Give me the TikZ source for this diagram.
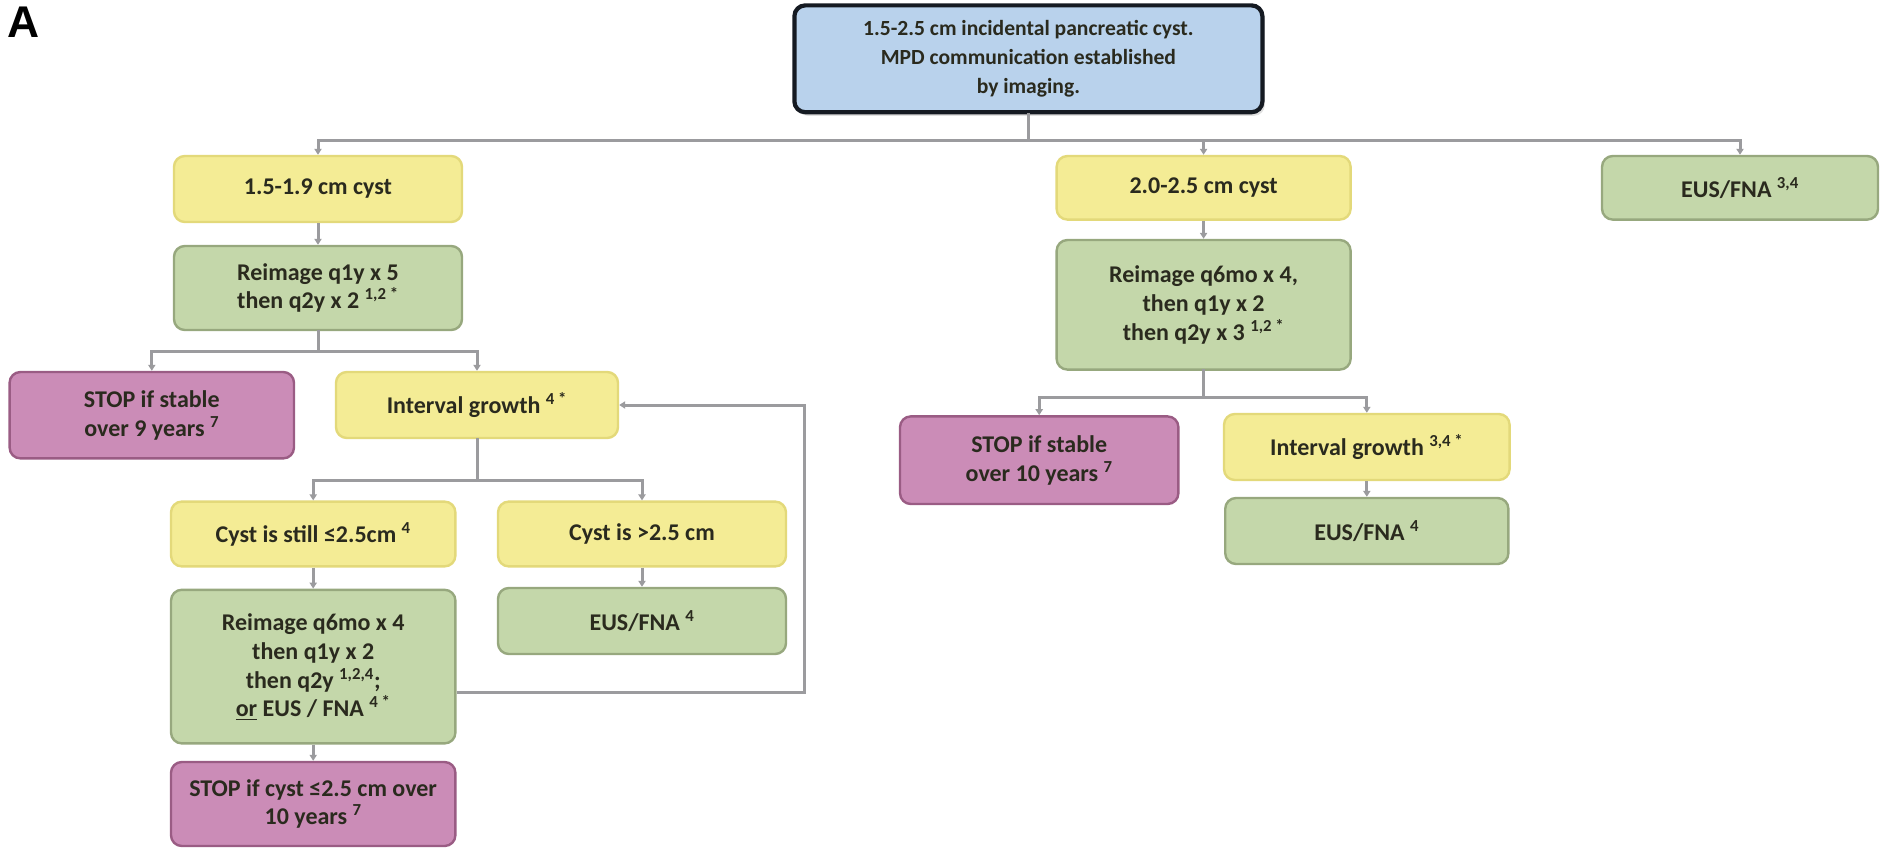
\documentclass[tikz,border=0pt]{standalone}
\usepackage{fontspec}
\setmainfont{Carlito}
\newfontfamily\labfont{Liberation Sans}
\usetikzlibrary{arrows.meta,shadows}
\definecolor{yelF}{HTML}{F4EC95}
\definecolor{yelD}{HTML}{E3D97A}
\definecolor{grnF}{HTML}{C4D7AA}
\definecolor{grnD}{HTML}{97A87E}
\definecolor{pnkF}{HTML}{CB8CB7}
\definecolor{pnkD}{HTML}{9A5C84}
\definecolor{bluF}{HTML}{B9D2EC}
\definecolor{bluD}{HTML}{151A22}
\definecolor{lineC}{HTML}{9B9B9E}
\definecolor{txt}{HTML}{2A2A1E}
\newcommand\supx[1]{\textsuperscript{#1}}
\begin{document}
\begin{tikzpicture}[x=1pt,y=-1pt,
 box/.style={rounded corners=9pt, line width=2pt, align=center, inner sep=0pt,
   font=\bfseries\fontsize{20}{24}\selectfont, text=txt},
 ybox/.style={box, fill=yelF, draw=yelD},
 gbox/.style={box, fill=grnF, draw=grnD},
 pbox/.style={box, fill=pnkF, draw=pnkD},
 bbox/.style={box, fill=bluF, draw=bluD, line width=3.5pt,
   font=\bfseries\fontsize{18}{24}\selectfont,
   drop shadow={opacity=0.25, shadow xshift=2pt, shadow yshift=-3pt}},
 wire/.style={draw=lineC, line width=2.5pt, line cap=rect},
 arr/.style={draw=lineC, line width=2.5pt, -{Triangle[length=5pt,width=6pt]}},
]
\useasboundingbox (0,0) rectangle (1570,708.3);

\node[font=\labfont\bfseries\fontsize{37}{37}\selectfont, anchor=base west, inner sep=0pt, text=black] (lab) at (6,31) {A};

% nodes
\node[bbox, minimum width=390pt, minimum height=89pt] (top) at (857,49)
  {1.5-2.5 cm incidental pancreatic cyst.\\ MPD communication established\\ by imaging.};

\node[ybox, minimum width=240pt, minimum height=55pt] (c1519) at (265,157.5) {1.5-1.9 cm cyst};
\node[gbox, minimum width=240pt, minimum height=70pt] (r1) at (265,240)
  {Reimage q1y x 5\\ then q2y x 2 \supx{1,2 *}};
\node[pbox, minimum width=237pt, minimum height=72pt] (stop9) at (126.5,346)
  {STOP if stable\\ over 9 years \supx{7}};
\node[ybox, minimum width=235pt, minimum height=55pt] (ig1) at (397.5,337.5)
  {Interval growth \supx{4 *}};
\node[ybox, minimum width=237pt, minimum height=54pt] (still) at (261,445)
  {Cyst is still ≤2.5cm \supx{4}};
\node[ybox, minimum width=240pt, minimum height=54pt] (gt25) at (535,445)
  {Cyst is >2.5 cm};
\node[gbox, minimum width=237pt, minimum height=128pt] (r2) at (261,555.5)
  {Reimage q6mo x 4\\ then q1y x 2\\ then q2y \supx{1,2,4};\\ \underline{or} EUS / FNA \supx{4 *}};
\node[gbox, minimum width=240pt, minimum height=55pt] (eus2) at (535,517.5)
  {EUS/FNA \supx{4}};
\node[pbox, minimum width=237pt, minimum height=70pt] (stop10b) at (261,670)
  {STOP if cyst ≤2.5 cm over\\ 10 years \supx{7}};

\node[ybox, minimum width=245pt, minimum height=53pt] (c2025) at (1003,156.5) {2.0-2.5 cm cyst};
\node[gbox, minimum width=245pt, minimum height=108pt] (r3) at (1003,254)
  {Reimage q6mo x 4,\\ then q1y x 2\\ then q2y x 3 \supx{1,2 *}};
\node[pbox, minimum width=232pt, minimum height=73pt] (stop10) at (866,383.5)
  {STOP if stable\\ over 10 years \supx{7}};
\node[ybox, minimum width=238pt, minimum height=55pt] (ig2) at (1139,372.5)
  {Interval growth \supx{3,4 *}};
\node[gbox, minimum width=236pt, minimum height=55pt] (eus3) at (1139,442.5)
  {EUS/FNA \supx{4}};

\node[gbox, minimum width=230pt, minimum height=53pt] (eus1) at (1450,156.5)
  {EUS/FNA \supx{3,4}};

% connectors
\coordinate (hT) at (0,117);
\draw[wire] (top.south) -- (top.south |- hT);
\draw[wire] (c1519.north |- hT) -- (eus1.north |- hT);
\draw[arr] (c1519.north |- hT) -- (c1519.north);
\draw[arr] (c2025.north |- hT) -- (c2025.north);
\draw[arr] (eus1.north |- hT) -- (eus1.north);

\draw[arr] (c1519) -- (r1);

\coordinate (h2) at (0,293);
\draw[wire] (r1.south) -- (r1.south |- h2);
\draw[wire] (stop9.north |- h2) -- (ig1.north |- h2);
\draw[arr] (stop9.north |- h2) -- (stop9.north);
\draw[arr] (ig1.north |- h2) -- (ig1.north);

\coordinate (h3) at (0,400);
\draw[wire] (ig1.south) -- (ig1.south |- h3);
\draw[wire] (still.north |- h3) -- (gt25.north |- h3);
\draw[arr] (still.north |- h3) -- (still.north);
\draw[arr] (gt25.north |- h3) -- (gt25.north);

\draw[arr] (still) -- (r2);
\draw[arr] (r2) -- (stop10b);
\draw[arr] (gt25) -- (eus2);

\coordinate (fbc) at (670,577);
\draw[arr] (r2.east |- fbc) -- (fbc) |- (ig1.east);

\draw[arr] (c2025) -- (r3);
\coordinate (h4) at (0,331);
\draw[wire] (r3.south) -- (r3.south |- h4);
\draw[wire] (stop10.north |- h4) -- (ig2.north |- h4);
\draw[arr] (stop10.north |- h4) -- (stop10.north);
\draw[arr] (ig2.north |- h4) -- (ig2.north);
\draw[arr] (ig2) -- (eus3);
\end{tikzpicture}
\end{document}
